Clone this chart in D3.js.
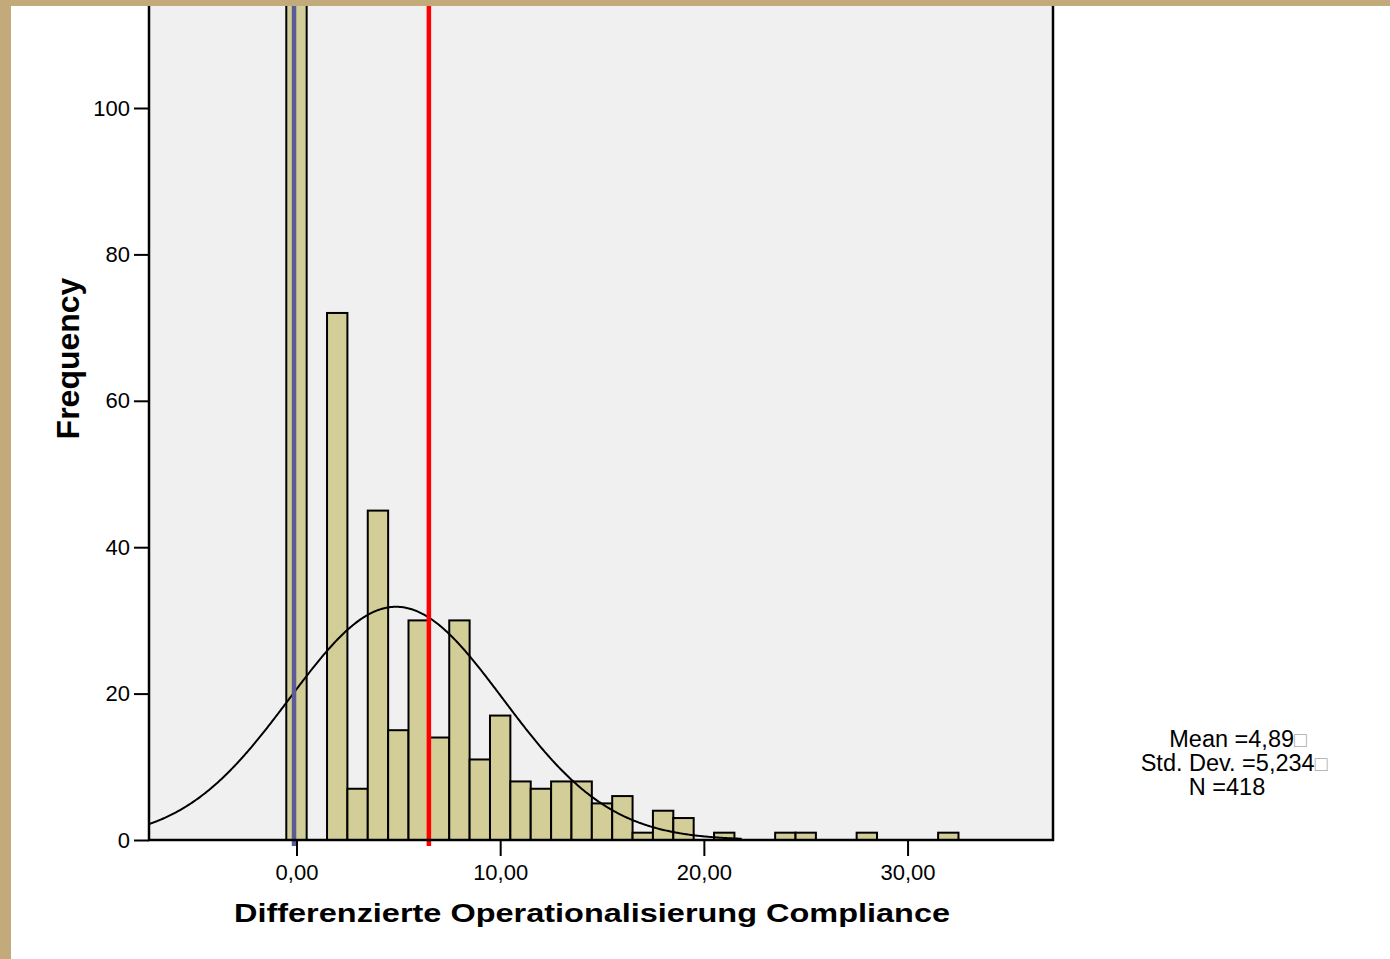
<!DOCTYPE html>
<html>
<head>
<meta charset="utf-8">
<script src="https://d3js.org/d3.v7.min.js"></script>
<style>
  body { margin: 0; background: #fff; }
  svg { display: block; font-family: "Liberation Sans", Arial, sans-serif; }
</style>
</head>
<body>
<div id="chart"></div>
<script>
// histogram data: bin centres (width 1) and frequencies
var binCenters = [0, 1, 2, 3, 4, 5, 6, 7, 8, 9, 10, 11, 12, 13, 14, 15, 16,
                  17, 18, 19, 20, 21, 22, 23, 24, 25, 26, 27, 28, 29, 30, 31, 32];
var counts     = [122, 0, 72, 7, 45, 15, 30, 14, 30, 11, 17, 8, 7, 8, 8, 5, 6,
                  1, 4, 3, 0, 1, 0, 0, 1, 1, 0, 0, 1, 0, 0, 0, 1];

// summary statistics shown in the legend
var statLabels = ["Mean =4,89", "Std. Dev. =5,234", "N =418"];
var mean = 4.89, stdDev = 5.234, nTotal = 418;

// reference lines (blue, red)
var refValues = [-0.12, 6.5];
var refColors = ["#5b5b95", "#ff0000"];

var yTicks = [0, 20, 40, 60, 80, 100];
var xTicks = [0, 10, 20, 30];

var W = 1390, H = 959;
var plotLeft = 149, plotRight = 1053, plotBottom = 840;

var svg = d3.select("#chart").append("svg")
    .attr("width", W)
    .attr("height", H);

var x = d3.scaleLinear().domain([-7.24, 37.14]).range([plotLeft, plotRight]);
var y = d3.scaleLinear().domain([0, 100]).range([plotBottom, 108]);

// plot background
svg.append("rect")
    .attr("x", plotLeft)
    .attr("y", y(130))
    .attr("width", plotRight - plotLeft)
    .attr("height", y(0) - y(130))
    .attr("fill", "#f0f0f0");

// bars
var bins = binCenters.map(function(c, i) { return {c: c, n: counts[i]}; })
    .filter(function(d) { return d.n > 0; });

svg.selectAll(".bar")
    .data(bins)
    .enter()
    .append("rect")
        .attr("class", "bar")
        .attr("x", function(d) { return x(d.c - 0.5); })
        .attr("y", function(d) { return y(d.n); })
        .attr("width", function(d) { return x(d.c + 0.5) - x(d.c - 0.5); })
        .attr("height", function(d) { return y(0) - y(d.n); })
        .attr("fill", "#d3ce98")
        .attr("stroke", "#000")
        .attr("stroke-width", 2);

// normal curve from the mean / sd / N above
var curveEnd = 21.9;
var pts = d3.range(x.domain()[0], curveEnd, 0.05).map(function(v) {
    var z = (v - mean) / stdDev;
    return [v, nTotal / (stdDev * Math.sqrt(2 * Math.PI)) * Math.exp(-0.5 * z * z)];
});
svg.append("path")
    .datum(pts)
    .attr("fill", "none")
    .attr("stroke", "#000")
    .attr("stroke-width", 2)
    .attr("d", d3.line()
        .x(function(d) { return x(d[0]); })
        .y(function(d) { return y(d[1]); }));

// reference lines
svg.selectAll(".ref")
    .data(refValues)
    .enter()
    .append("line")
        .attr("x1", function(d) { return x(d); })
        .attr("x2", function(d) { return x(d); })
        .attr("y1", -10)
        .attr("y2", plotBottom + 6)
        .attr("stroke", function(d, i) { return refColors[i]; })
        .attr("stroke-width", 4.5);

// axes
var yAxis = svg.append("g")
    .attr("transform", "translate(" + plotLeft + ",0)")
    .call(d3.axisLeft(y).tickValues(yTicks).tickSize(15).tickPadding(4));

var xAxis = svg.append("g")
    .attr("transform", "translate(0," + plotBottom + ")")
    .call(d3.axisBottom(x).tickValues(xTicks).tickSize(16).tickPadding(8)
        .tickFormat(function(d) { return d3.format(".2f")(d).replace(".", ","); }));

[yAxis, xAxis].forEach(function(g) {
    g.select(".domain").remove();
    g.selectAll(".tick line").attr("stroke", "#000").attr("stroke-width", 2);
    g.selectAll(".tick text")
        .attr("fill", "#000")
        .style("font-size", "22px")
        .style("font-family", "'Liberation Sans', Arial, sans-serif");
});

// frame
svg.append("path")
    .attr("d", "M" + plotLeft + ",-10V" + plotBottom + "H" + plotRight + "V-10")
    .attr("fill", "none")
    .attr("stroke", "#000")
    .attr("stroke-width", 2.5);

// axis titles
svg.append("text")
    .attr("x", 592)
    .attr("y", 922)
    .attr("text-anchor", "middle")
    .attr("textLength", 716)
    .attr("lengthAdjust", "spacingAndGlyphs")
    .style("font-size", "26px")
    .style("font-weight", "bold")
    .text("Differenzierte Operationalisierung Compliance");

svg.append("text")
    .attr("transform", "translate(79,358.5) rotate(-90)")
    .attr("text-anchor", "middle")
    .style("font-size", "32px")
    .style("font-weight", "bold")
    .text("Frequency");

// legend
var legendX = [1238, 1234, 1227];
var legend = svg.selectAll(".stat")
    .data(statLabels)
    .enter()
    .append("text")
        .attr("x", function(d, i) { return legendX[i]; })
        .attr("y", function(d, i) { return 747 + i * 24; })
        .attr("text-anchor", "middle")
        .style("font-size", "23.5px");
legend.append("tspan").text(function(d) { return d; });
legend.filter(function(d, i) { return i < 2; })
    .append("tspan")
        .attr("fill", "#aaa")
        .style("font-size", "21px")
        .text("\u25A1");

// page border
svg.append("rect").attr("x", 0).attr("y", 0).attr("width", W).attr("height", 6).attr("fill", "#c3aa7b");
svg.append("rect").attr("x", 0).attr("y", 0).attr("width", 11).attr("height", H).attr("fill", "#c3aa7b");
</script>
</body>
</html>
